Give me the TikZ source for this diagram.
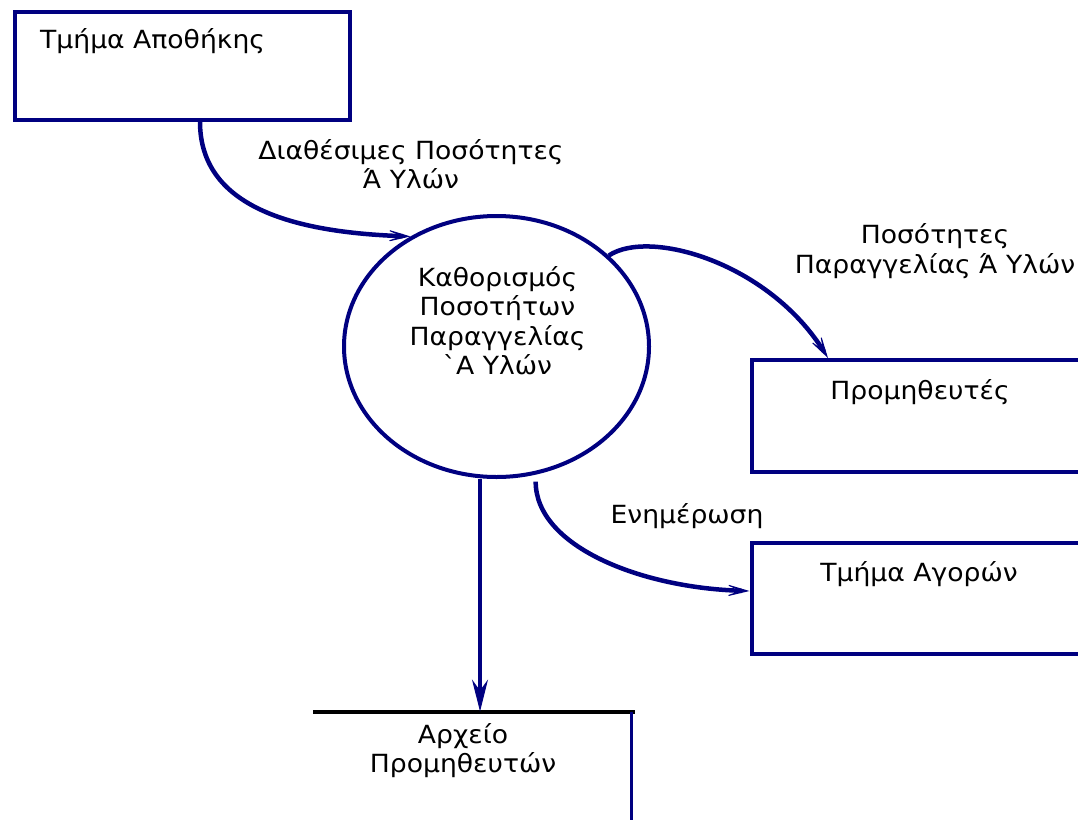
\documentclass[tikz,border=0pt]{standalone}
\usepackage{fontspec}
\setmainfont{DejaVu Sans}[FakeStretch=1.065]
\usetikzlibrary{arrows.meta,shapes.geometric}
\definecolor{dfdblue}{RGB}{0,0,128}
\begin{document}
\begin{tikzpicture}[x=1pt,y=-1pt,
  % multi-line labels are placed by the baseline of their last line
  lbl/.style={font=\fontsize{25}{29.5}\selectfont, inner sep=0pt, align=center, anchor=base},
  extent/.style={draw=dfdblue, line width=4pt, rectangle, inner sep=0pt},
  process/.style={draw=dfdblue, line width=4pt, ellipse, inner sep=0pt},
  flow/.style={draw=dfdblue, line width=4.5pt,
    -{Stealth[length=30pt,width=16pt,inset=21pt,line width=1pt]}},
  dropflow/.style={draw=dfdblue, line width=4.5pt,
    -{Stealth[length=32pt,width=16pt,inset=11pt,line width=1pt]}},
]
\useasboundingbox (0,0) rectangle (1078,819);

% external entities
\node[extent, minimum width=335pt, minimum height=107.5pt] (wh) at (182.5,66) {};
\node[extent, minimum width=348.5pt, minimum height=112pt] (sup) at (925.75,416) {};
\node[extent, minimum width=348.5pt, minimum height=111pt] (pur) at (925.75,598.5) {};

% process
\node[process, minimum width=305pt, minimum height=261pt] (proc) at (496.5,346.5) {};

% data store
\node[inner sep=0pt, minimum width=322pt, minimum height=120pt, anchor=north west] (store) at (313,711.5) {};
\draw[black, line width=4pt] (store.north west) -- (store.north east);
\draw[dfdblue, line width=2.5pt] ([xshift=-4pt]store.north east) -- ([xshift=-4pt]store.south east);
\coordinate (storein) at (480,711.5);

% texts
\node[lbl, anchor=base west] (whtext) at (40,48) {Τμήμα Αποθήκης};
\node[lbl] (suptext) at (920,399.3) {Προμηθευτές};
\node[lbl] (purtext) at (919,581) {Τμήμα Αγορών};
\node[lbl] (proctext) at (497.5,374.5) {Καθορισμός\\Ποσοτήτων\\Παραγγελίας\\ˋΑ Υλών};
\node[lbl] (storetext) at (463,772.7) {Αρχείο\\Προμηθευτών};

% flow labels
\node[lbl] (f1text) at (411,188.5) {Διαθέσιμες Ποσότητες\\Ά Υλών};
\node[lbl] (f2text) at (935,273.3) {Ποσότητες\\Παραγγελίας Ά Υλών};
\node[lbl] (f3text) at (687,523) {Ενημέρωση};

% data flows
\draw[flow] ([xshift=17.5pt]wh.south) .. controls +(0,85) and +(-118,-4) .. (proc.128.7);
\draw[flow] (proc.39.8) .. controls +(40,-27) and +(-60,-96) .. ([xshift=78.5pt]sup.north west);
\draw[flow] ([yshift=-7pt]proc.-73) .. controls +(0,65) and +(-108,-3) .. ([yshift=7.5pt]pur.west);
\draw[dropflow] (proc.south -| storein) -- (storein);
\end{tikzpicture}
\end{document}
